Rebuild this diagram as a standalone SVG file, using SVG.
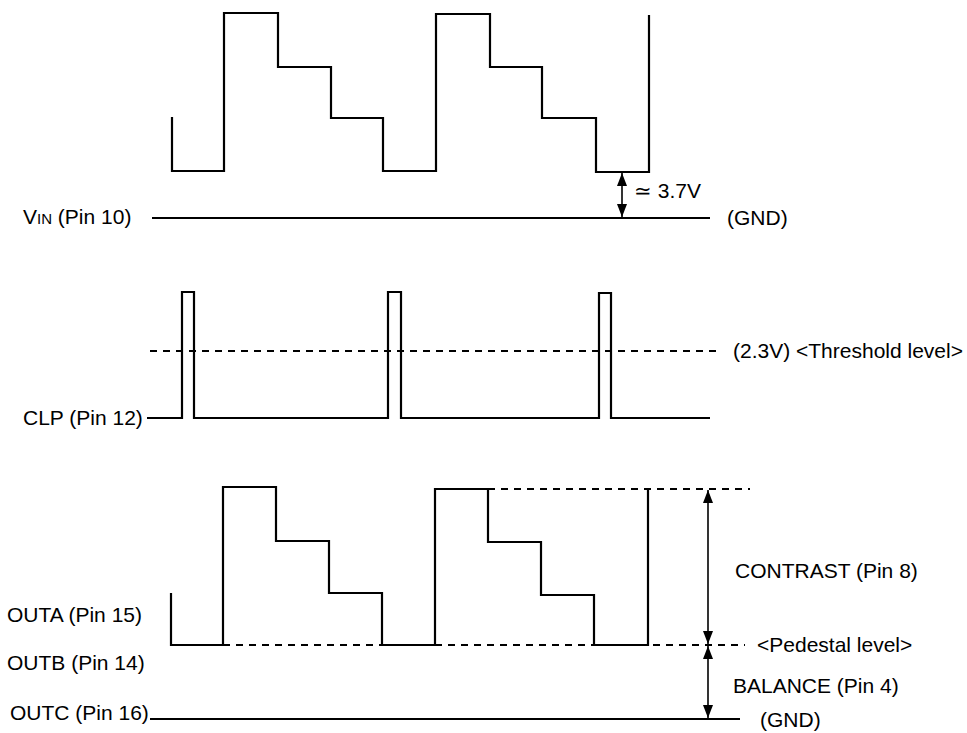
<svg xmlns="http://www.w3.org/2000/svg" width="967" height="733" viewBox="0 0 967 733">
<style>
text{font-family:"Liberation Sans",Arial,sans-serif;font-size:21px;fill:#000}
.w{fill:none;stroke:#000;stroke-width:2.2;stroke-linejoin:miter}
.g{fill:none;stroke:#000;stroke-width:1.8}
.d{fill:none;stroke:#000;stroke-width:1.8;stroke-dasharray:7,6}
.a{fill:none;stroke:#000;stroke-width:1.6;marker-start:url(#ah);marker-end:url(#ah)}
</style>
<defs>
<marker id="ah" viewBox="0 0 13 10" refX="13" refY="5" markerWidth="13" markerHeight="10" markerUnits="userSpaceOnUse" orient="auto-start-reverse">
<path d="M0,0 L13,5 L0,10 Z" fill="#000"/>
</marker>
</defs>
<rect width="967" height="733" fill="#fff"/>

<g id="vin">
<text x="23" y="224">V<tspan font-size="15">IN</tspan> (Pin 10)</text>
<path class="g" d="M152,218 H710"/>
<path class="w" d="M172,117 V171 H224 V13 H278 V67 H331 V118 H383 V171 H436 V14 H490 V67 H542 V118 H596 V172 H649 V15"/>
<text x="727" y="225">(GND)</text>
</g>

<g id="clp">
<text x="23" y="425">CLP (Pin 12)</text>
<path class="w" d="M147,418 H182 V292 H194 V418 H388 V292 H401 V418 H599 V293 H611 V418 H710"/>
<path class="d" d="M150,351 H718"/>
<text x="733" y="358">(2.3V) &lt;Threshold level&gt;</text>
</g>

<g id="out">
<text x="7" y="622">OUTA (Pin 15)</text>
<text x="7" y="670">OUTB (Pin 14)</text>
<text x="10" y="720">OUTC (Pin 16)</text>
<path class="g" d="M150,719 H740"/>
<path class="w" d="M171,593 V645 H223 V487 H276 V541 H329 V593 H382 V645 H435 V489 H488 V542 H541 V595 H594 V645 H648 V489"/>
<path class="d" d="M223,645 H382 M435,645 H594 M653,645 H745 M488,489 H750"/>
<text x="735" y="578">CONTRAST (Pin 8)</text>
<text x="757" y="652">&lt;Pedestal level&gt;</text>
<text x="733" y="693">BALANCE (Pin 4)</text>
<text x="760" y="727">(GND)</text>
</g>

<g id="connectors">
<path class="a" d="M622,173 V217"/>
<text x="634" y="198">≃ 3.7V</text>
<path class="a" d="M708,490 V644"/>
<path class="a" d="M708,646 V718"/>
</g>
</svg>
